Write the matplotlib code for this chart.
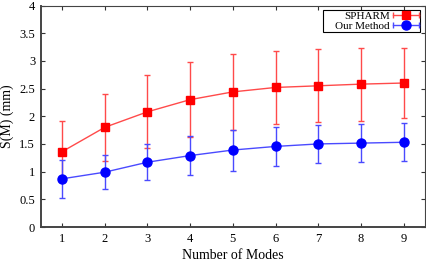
import numpy as np
import matplotlib
matplotlib.use("Agg")
import matplotlib.pyplot as plt
from matplotlib.legend_handler import HandlerBase
from matplotlib.lines import Line2D
from matplotlib.patches import Rectangle

modes = [1, 2, 3, 4, 5, 6, 7, 8, 9]
spharm_mean = [1.36, 1.80, 2.08, 2.30, 2.44, 2.52, 2.55, 2.58, 2.60]
spharm_err = [0.55, 0.61, 0.66, 0.68, 0.68, 0.66, 0.66, 0.66, 0.64]
ours_mean = [0.87, 0.99, 1.17, 1.29, 1.39, 1.455, 1.50, 1.515, 1.53]
ours_err = [0.34, 0.31, 0.33, 0.35, 0.37, 0.35, 0.34, 0.34, 0.34]
labels = ["SPHARM", "Our Method"]

plt.rcParams['font.family'] = ['Liberation Serif', 'DejaVu Serif']

fig = plt.figure(figsize=(4.27, 2.62), dpi=100)
ax = fig.add_axes([40.7/427, 1-227/262, (425-40.7)/427, (227-5.5)/262])

red = '#ff0000'
red_l = '#ff4a4a'
blue = '#0000ff'
blue_l = '#4a4aff'


class HErrHandler(HandlerBase):
    def __init__(self, marker, mcolor, lcolor, ms):
        super().__init__()
        self.marker, self.mcolor, self.lcolor, self.ms = marker, mcolor, lcolor, ms

    def create_artists(self, legend, orig_handle, xdescent, ydescent, width,
                       height, fontsize, trans):
        y = height / 2 - ydescent
        x0, x1 = -xdescent, -xdescent + width
        line = Line2D([x0, x1], [y, y], color=self.lcolor, lw=1.0)
        caps = Line2D([x0, x1], [y, y], ls='none', marker='|',
                      color=self.lcolor, ms=5, mew=1.0)
        mk = Line2D([(x0 + x1) / 2], [y], ls='none', marker=self.marker,
                    color=self.mcolor, ms=self.ms)
        for a in (line, caps, mk):
            a.set_transform(trans)
        return [line, caps, mk]


ax.errorbar(modes, spharm_mean, yerr=spharm_err, fmt='none', ecolor=red_l,
            elinewidth=1.0, capsize=2.5, capthick=1.0, zorder=2)
l1, = ax.plot(modes, spharm_mean, '-', color=red_l, lw=1.0, zorder=3)
ax.plot(modes, spharm_mean, 's', color=red, ms=6, zorder=4)

ax.errorbar(modes, ours_mean, yerr=ours_err, fmt='none', ecolor=blue_l,
            elinewidth=1.0, capsize=2.5, capthick=1.0, zorder=2)
l2, = ax.plot(modes, ours_mean, '-', color=blue_l, lw=1.0, zorder=3)
ax.plot(modes, ours_mean, 'o', color=blue, ms=6.5, zorder=4)

# legend frame (gnuplot-style key box with extra left padding)
ax.add_patch(Rectangle((0.7346, 0.8804), 0.2524, 0.0993, transform=ax.transAxes,
                       facecolor='white', edgecolor='black', lw=0.8, zorder=4.5))
leg = ax.legend([l1, l2], labels, loc='upper right', markerfirst=False,
                bbox_to_anchor=(0.987, 0.9797),
                handler_map={l1: HErrHandler('s', red, red_l, 6),
                             l2: HErrHandler('o', blue, blue_l, 6.5)},
                fontsize=8, frameon=False, borderaxespad=0.0, handlelength=2.3,
                borderpad=0.12, labelspacing=0.0, handletextpad=0.3)

ax.set_xlim(0.5, 9.5)
ax.set_ylim(0, 4)
ax.set_xticks(modes)
ax.set_yticks([0, 0.5, 1, 1.5, 2, 2.5, 3, 3.5, 4])
ax.set_yticklabels(['0', '0.5', '1', '1.5', '2', '2.5', '3', '3.5', '4'])
ax.tick_params(direction='in', top=True, right=True, length=3, width=0.8,
               labelsize=9, colors='#333333', labelcolor='black', pad=4)
for s in ax.spines.values():
    s.set_color('#444444')
    s.set_linewidth(0.8)
ax.spines['left'].set_linewidth(1.4)
ax.spines['bottom'].set_linewidth(1.4)

ax.set_xlabel('Number of Modes', fontsize=10, labelpad=3)
ax.set_ylabel('S(M) (mm)', fontsize=10, labelpad=4)

fig.savefig('out.png', dpi=100)
